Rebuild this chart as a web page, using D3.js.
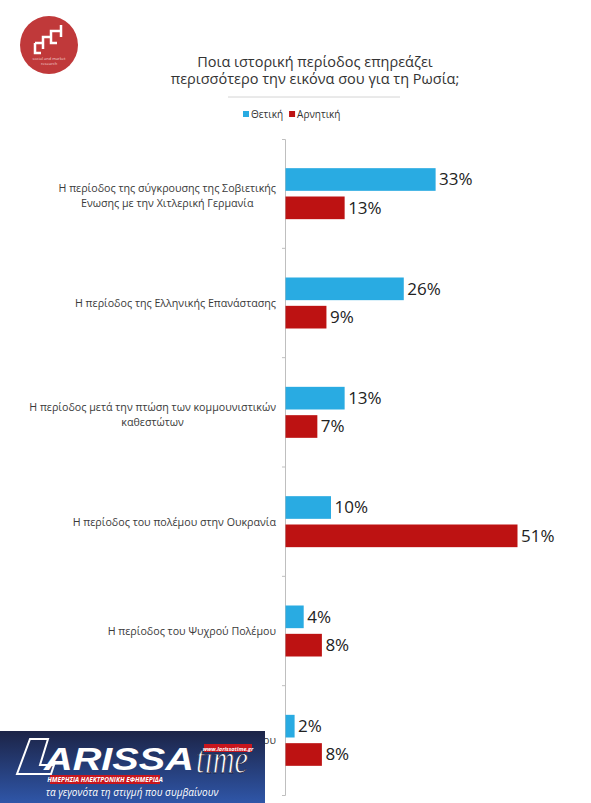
<!DOCTYPE html>
<html lang="el">
<head>
<meta charset="utf-8">
<title>Ποια ιστορική περίοδος</title>
<script src="https://cdn.jsdelivr.net/npm/d3@7"></script>
<style>
  body { margin: 0; background: #fff; font-family: "Open Sans", "Noto Sans", sans-serif; }
  svg { display: block; }
</style>
</head>
<body>
<script>
// data
var categories = [
  ["Η περίοδος της σύγκρουσης της Σοβιετικής", "Ενωσης με την Χιτλερική Γερμανία"],
  ["Η περίοδος της Ελληνικής Επανάστασης"],
  ["Η περίοδος μετά την πτώση των κομμουνιστικών", "καθεστώτων"],
  ["Η περίοδος του πολέμου στην Ουκρανία"],
  ["Η περίοδος του Ψυχρού Πολέμου"],
  ["Η περίοδος του Μεγάλου Πέτρου"]
];
var seriesNames = ["Θετική", "Αρνητική"];
var positive = [33, 26, 13, 10, 4, 2];
var negative = [13, 9, 7, 51, 8, 8];
var colors = ["#29abe2", "#bd1212"];

var w = 591, h = 803;
var svg = d3.select("body").append("svg").attr("width", w).attr("height", h);

// title
svg.append("text")
  .attr("x", 315).attr("y", 67)
  .attr("text-anchor", "middle")
  .attr("font-size", 14.5).attr("fill", "#333")
  .text("Ποια ιστορική περίοδος επηρεάζει");
svg.append("text")
  .attr("x", 315).attr("y", 84)
  .attr("text-anchor", "middle")
  .attr("font-size", 14.5).attr("fill", "#333")
  .text("περισσότερο την εικόνα σου για τη Ρωσία;");
svg.append("line")
  .attr("x1", 228).attr("x2", 400).attr("y1", 97).attr("y2", 97)
  .attr("stroke", "#d4d4d4").attr("stroke-width", 1);

// legend
var legend = svg.append("g").attr("transform", "translate(243,114)");
var lx = 0;
seriesNames.forEach(function(name, i) {
  var g = legend.append("g").attr("transform", "translate(" + lx + ",0)");
  g.append("rect").attr("x", 0).attr("y", -3).attr("width", 6).attr("height", 6).attr("fill", colors[i]);
  var t = g.append("text").attr("x", 8).attr("y", 3.5)
    .attr("font-size", 10).attr("fill", "#333").text(name);
  lx += 8 + t.node().getComputedTextLength() + 6;
});

// scales
var x = d3.scaleLinear().domain([0, 51]).range([285, 517]);
var y0 = d3.scaleBand().domain(d3.range(categories.length)).range([139, 795]);
var y1 = d3.scaleBand().domain(seriesNames).range([0, 51]).paddingInner(0.2);
var off = y0.bandwidth() / 2 - 25.5;

var rows = categories.map(function(c, i) {
  return { i: i, lines: c, vals: [positive[i], negative[i]] };
});

// category axis, ticks between the groups
var axis = d3.axisLeft(y0).tickSize(3).tickFormat("");
var ag = svg.append("g").attr("transform", "translate(" + x(0) + ",0)").call(axis);
ag.select(".domain").attr("stroke", "#bfbfbf");
ag.selectAll(".tick").attr("transform", function(d) { return "translate(0," + (y0(d) + y0.bandwidth()) + ")"; });
ag.selectAll(".tick line").attr("stroke", "#bfbfbf");
ag.selectAll(".tick").filter(function(d) { return d === categories.length - 1; }).remove();

// bars
var groups = svg.selectAll("g.row").data(rows).enter().append("g")
  .attr("class", "row")
  .attr("transform", function(d) { return "translate(0," + (y0(d.i) + off) + ")"; });

groups.selectAll("rect").data(function(d) {
  return d.vals.map(function(v, k) { return { k: k, v: v }; });
}).enter().append("rect")
  .attr("x", x(0) + 0.5)
  .attr("y", function(d) { return y1(seriesNames[d.k]); })
  .attr("width", function(d) { return x(d.v) - x(0); })
  .attr("height", y1.bandwidth())
  .attr("fill", function(d) { return colors[d.k]; });

groups.selectAll("text.val").data(function(d) {
  return d.vals.map(function(v, k) { return { k: k, v: v }; });
}).enter().append("text")
  .attr("class", "val")
  .attr("x", function(d) { return x(d.v) + 4; })
  .attr("y", function(d) { return y1(seriesNames[d.k]) + y1.bandwidth() / 2; })
  .attr("dy", "0.35em")
  .attr("font-size", 17).attr("fill", "#222")
  .text(function(d) { return d.v + "%"; });

// category labels: block right-aligned, lines centred inside block
groups.each(function(d) {
  var g = d3.select(this);
  var t = g.append("text").attr("font-size", 10.7).attr("fill", "#3a3a3a").attr("text-anchor", "middle");
  var n = d.lines.length;
  var spans = d.lines.map(function(line, j) {
    return t.append("tspan").attr("x", 0)
      .attr("y", 25.5 + (j - (n - 1) / 2) * 15 + 4 + (n > 1 ? 2 : 0))
      .text(line);
  });
  var maxW = d3.max(spans, function(s) { return s.node().getComputedTextLength(); });
  var cx = 276 - maxW / 2;
  spans.forEach(function(s) { s.attr("x", cx); });
});

// agency logo (top left)
var logo = svg.append("g").attr("transform", "translate(49,45)");
logo.append("circle").attr("r", 29).attr("fill", "#c0393a");
logo.append("path")
  .attr("d", "M-14,-2 h8 v-6 h8 v-6 h10 v-6 M-14,-2 v10 h6 M-6,-2 v6 M2,-8 v6 h6 M12,-14 v6")
  .attr("fill", "none").attr("stroke", "#fff").attr("stroke-width", 2.5);
logo.append("text").attr("y", 15).attr("text-anchor", "middle")
  .attr("font-size", 4).attr("fill", "#f3d6d6").text("social and market");
logo.append("text").attr("y", 20).attr("text-anchor", "middle")
  .attr("font-size", 4).attr("fill", "#f3d6d6").text("research");

// newspaper banner (bottom left)
var defs = svg.append("defs");
var grad = defs.append("linearGradient").attr("id", "lt").attr("x1", 0).attr("y1", 0).attr("x2", 0).attr("y2", 1);
grad.append("stop").attr("offset", "0%").attr("stop-color", "#1c2447");
grad.append("stop").attr("offset", "100%").attr("stop-color", "#2f56a8");
var ban = svg.append("g").attr("transform", "translate(0,731)");
ban.append("rect").attr("width", 265).attr("height", 72).attr("fill", "url(#lt)");
ban.append("path").attr("d", "M30,8 h18 l-8,26 h14 l-3,9 h-34 z")
  .attr("fill", "none").attr("stroke", "#fff").attr("stroke-width", 2);
ban.append("text").attr("x", 44).attr("y", 39)
  .attr("font-size", 32).attr("font-weight", "bold").attr("font-style", "italic")
  .attr("font-family", "Liberation Sans, Arial, sans-serif")
  .attr("fill", "#fff").attr("textLength", 150).attr("lengthAdjust", "spacingAndGlyphs")
  .text("ARISSA");
ban.append("text").attr("x", 196).attr("y", 42)
  .attr("font-size", 40).attr("font-style", "italic")
  .attr("font-family", "Liberation Serif, serif")
  .attr("fill", "#fff").attr("stroke", "#1c2447").attr("stroke-width", 0.8)
  .attr("textLength", 52).attr("lengthAdjust", "spacingAndGlyphs")
  .text("time");
ban.append("rect").attr("x", 204).attr("y", 13).attr("width", 48).attr("height", 8).attr("fill", "#c8161d");
ban.append("text").attr("x", 228).attr("y", 19.5).attr("text-anchor", "middle")
  .attr("font-size", 5.5).attr("font-weight", "bold").attr("font-style", "italic").attr("fill", "#fff")
  .text("www.larissatime.gr");
ban.append("rect").attr("x", 50).attr("y", 44).attr("width", 110).attr("height", 9).attr("fill", "#c8161d");
ban.append("text").attr("x", 105).attr("y", 51).attr("text-anchor", "middle")
  .attr("font-size", 6.5).attr("font-weight", "bold").attr("font-style", "italic").attr("fill", "#fff")
  .text("ΗΜΕΡΗΣΙΑ ΗΛΕΚΤΡΟΝΙΚΗ ΕΦΗΜΕΡΙΔΑ");
ban.append("text").attr("x", 132).attr("y", 65).attr("text-anchor", "middle")
  .attr("font-size", 10).attr("font-style", "italic").attr("fill", "#fff")
  .text("τα γεγονότα τη στιγμή που συμβαίνουν");
</script>
</body>
</html>
